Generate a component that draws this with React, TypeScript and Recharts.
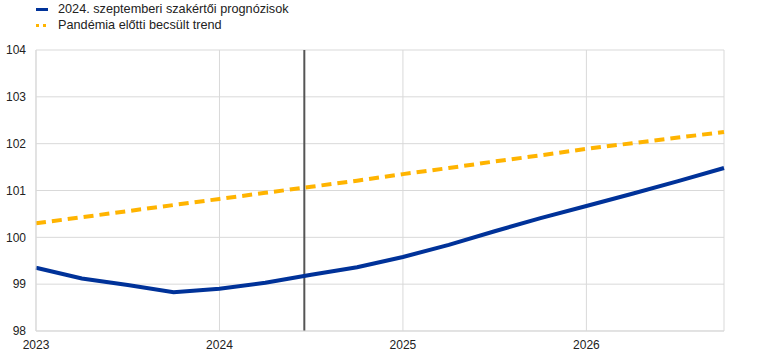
import { LineChart, Line, XAxis, YAxis, CartesianGrid, ReferenceLine } from 'recharts'

const quarters = [
  '2023Q1', '2023Q2', '2023Q3', '2023Q4',
  '2024Q1', '2024Q2', '2024Q3', '2024Q4',
  '2025Q1', '2025Q2', '2025Q3', '2025Q4',
  '2026Q1', '2026Q2', '2026Q3', '2026Q4',
]
const projection = [99.35, 99.12, 98.98, 98.83, 98.9, 99.03, 99.2, 99.36, 99.58, 99.84, 100.13, 100.41, 100.67, 100.93, 101.2, 101.48]
const trend = [100.3, 100.43, 100.56, 100.69, 100.82, 100.95, 101.08, 101.21, 101.35, 101.48, 101.62, 101.75, 101.89, 102.01, 102.13, 102.25]
const yearTicks = [0, 4, 8, 12]
const yearLabels = ['2023', '2024', '2025', '2026']
const yTicks = [98, 99, 100, 101, 102, 103, 104]
const cutoff = 5.85

const data = quarters.map((q, i) => ({ i, q, projection: projection[i], trend: trend[i] }))

const BLUE = '#003299'
const YELLOW = '#ffb400'
const FONT = '"Liberation Sans", Arial, sans-serif'

export default function App() {
  return (
    <div style={{ position: 'absolute', left: 0, top: 0, width: 761, height: 358, fontFamily: FONT, background: '#fff' }}>
      <div style={{ position: 'absolute', left: 36, top: 1, fontSize: 12.7, color: '#222', lineHeight: '16px' }}>
        <div style={{ display: 'flex', alignItems: 'center' }}>
          <span style={{ width: 12, height: 3, background: BLUE, display: 'inline-block', marginRight: 10 }} />
          <span>2024. szeptemberi szakértői prognózisok</span>
        </div>
        <div style={{ display: 'flex', alignItems: 'center' }}>
          <span style={{ width: 3, height: 3, background: YELLOW, display: 'inline-block', marginRight: 4 }} />
          <span style={{ width: 3, height: 3, background: YELLOW, display: 'inline-block', marginRight: 12 }} />
          <span>Pandémia előtti becsült trend</span>
        </div>
      </div>
      <LineChart width={761} height={358} data={data} margin={{ top: 50, right: 37, left: 0, bottom: 0 }}>
        <CartesianGrid stroke="#d9d9d9" strokeWidth={1} />
        <XAxis
          type="number"
          dataKey="i"
          domain={[0, 15]}
          ticks={yearTicks}
          tickFormatter={(v: number) => yearLabels[yearTicks.indexOf(v)] ?? ''}
          axisLine={{ stroke: '#d9d9d9' }}
          tickLine={false}
          tickSize={0}
          tickMargin={9}
          height={27}
          tick={{ fill: '#222', fontSize: 12, fontFamily: FONT }}
        />
        <YAxis
          domain={[98, 104]}
          ticks={yTicks}
          interval={0}
          axisLine={{ stroke: '#d9d9d9' }}
          tickLine={false}
          tickSize={0}
          tickMargin={10}
          width={36}
          tick={{ fill: '#222', fontSize: 12, fontFamily: FONT }}
        />
        <ReferenceLine x={cutoff} stroke="#555" strokeWidth={2} />
        <Line
          type="linear"
          dataKey="trend"
          stroke={YELLOW}
          strokeWidth={4}
          strokeDasharray="10 6"
          dot={false}
          isAnimationActive={false}
        />
        <Line
          type="linear"
          dataKey="projection"
          stroke={BLUE}
          strokeWidth={4}
          dot={false}
          isAnimationActive={false}
        />
      </LineChart>
    </div>
  )
}
